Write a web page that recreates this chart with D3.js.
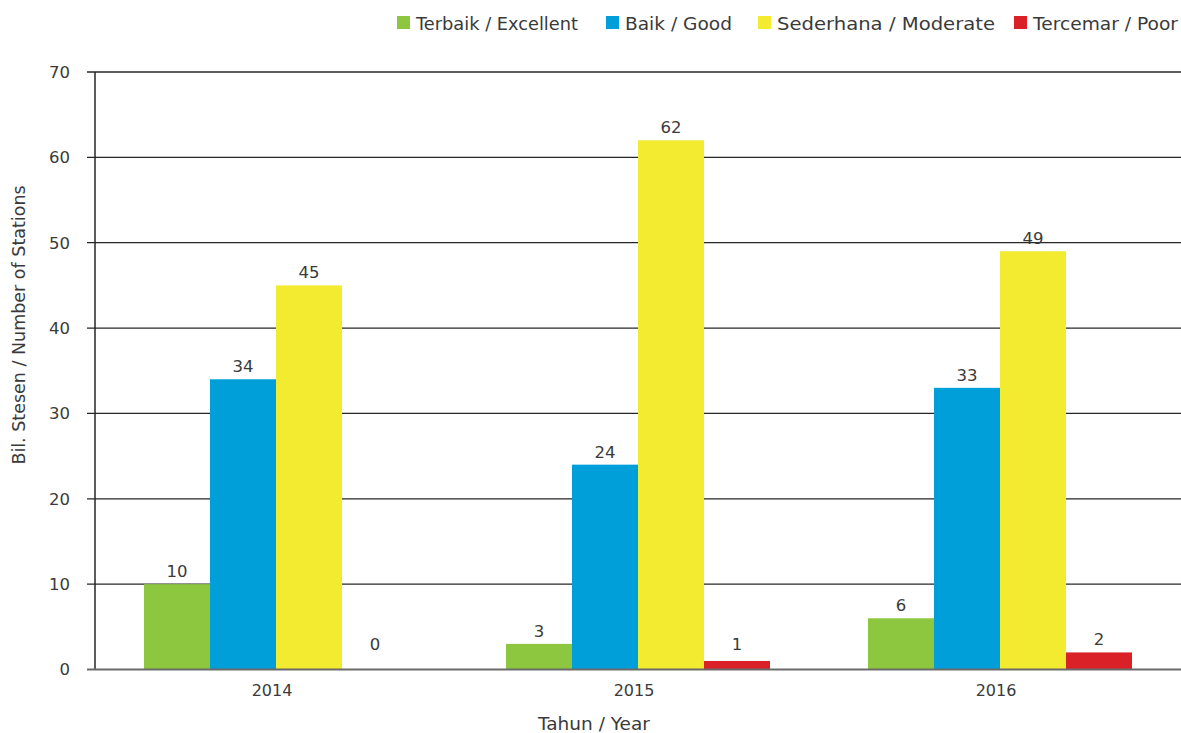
<!DOCTYPE html>
<html>
<head>
<meta charset="utf-8">
<script src="https://cdn.jsdelivr.net/npm/d3@7"></script>
<style>
  body { margin: 0; background: #fff; }
  text { font-family: "DejaVu Sans", "Noto Sans", sans-serif; fill: #3a3a3a; }
</style>
</head>
<body>
<div id="chart"></div>
<script>
const years = ["2014", "2015", "2016"];
const seriesNames = ["Terbaik / Excellent", "Baik / Good", "Sederhana / Moderate", "Tercemar / Poor"];
const excellent = [10, 3, 6];
const good = [34, 24, 33];
const moderate = [45, 62, 49];
const poor = [0, 1, 2];
const yTicks = [0, 10, 20, 30, 40, 50, 60, 70];
const colors = ["#8dc63f", "#009fda", "#f3eb2f", "#da2128"];

const seriesValues = [excellent, good, moderate, poor];
const data = years.map((y, i) => ({
  year: y,
  values: seriesNames.map((s, j) => ({ key: s, value: seriesValues[j][i] })),
}));

const W = 1181, H = 733;
const margin = { top: 72, right: 0, bottom: 63.5, left: 95 };
const width = W - margin.left - margin.right;
const height = H - margin.top - margin.bottom;

const root = d3.select("#chart").append("svg").attr("width", W).attr("height", H);
const svg = root.append("g").attr("transform", `translate(${margin.left},${margin.top})`);

const x0 = d3.scaleBand().domain(years).range([0, width]);
const x1 = d3.scaleBand().domain(seriesNames).range([49, x0.bandwidth() - 49]);
const y = d3.scaleLinear().domain([0, 70]).range([height, 0]);

// gridlines
svg.append("g")
  .selectAll("line")
  .data(yTicks.filter((d) => d > 0))
  .enter()
  .append("line")
  .attr("x1", -8)
  .attr("x2", width)
  .attr("y1", (d) => y(d))
  .attr("y2", (d) => y(d))
  .attr("stroke", "#262626")
  .attr("stroke-width", 1.3);

// y tick labels
svg.append("g")
  .selectAll("text")
  .data(yTicks)
  .enter()
  .append("text")
  .attr("x", -25)
  .attr("y", (d) => y(d))
  .attr("dy", "0.36em")
  .attr("text-anchor", "end")
  .style("font-size", "16.5px")
  .text((d) => d);

// bars
const groups = svg.selectAll(".group")
  .data(data)
  .enter()
  .append("g")
  .attr("class", "group")
  .attr("transform", (d) => `translate(${x0(d.year)},0)`);

groups.selectAll("rect")
  .data((d) => d.values)
  .enter()
  .append("rect")
  .attr("x", (d) => x1(d.key))
  .attr("y", (d) => y(d.value))
  .attr("width", x1.bandwidth())
  .attr("height", (d) => height - y(d.value))
  .attr("fill", (d, i) => colors[i]);

groups.selectAll(".val")
  .data((d) => d.values)
  .enter()
  .append("text")
  .attr("class", "val")
  .attr("x", (d) => x1(d.key) + x1.bandwidth() / 2)
  .attr("y", (d) => Math.min(y(d.value) - 7, height - 20))
  .attr("text-anchor", "middle")
  .style("font-size", "16.5px")
  .text((d) => d.value);

// y axis line
svg.append("line")
  .attr("x1", 0).attr("x2", 0)
  .attr("y1", y(70)).attr("y2", height)
  .attr("stroke", "#262626")
  .attr("stroke-width", 1.5);

// baseline
svg.append("line")
  .attr("x1", -8).attr("x2", width)
  .attr("y1", height).attr("y2", height)
  .attr("stroke", "#6b6b6b")
  .attr("stroke-width", 2);

// x tick labels
svg.append("g")
  .selectAll("text")
  .data(years)
  .enter()
  .append("text")
  .attr("x", (d) => x0(d) + x0.bandwidth() / 2 - 4)
  .attr("y", height + 26)
  .attr("text-anchor", "middle")
  .style("font-size", "16px")
  .text((d) => d);

// axis titles
root.append("text")
  .attr("x", 594)
  .attr("y", 730)
  .attr("text-anchor", "middle")
  .style("font-size", "18.5px")
  .text("Tahun / Year");

root.append("text")
  .attr("transform", "rotate(-90)")
  .attr("x", -325)
  .attr("y", 25)
  .attr("text-anchor", "middle")
  .style("font-size", "17.5px")
  .text("Bil. Stesen / Number of Stations");

// legend
const legendX = [397, 606, 758, 1014];
const legendW = [162, 107, 218, 145];
const legend = root.append("g")
  .selectAll("g")
  .data(seriesNames)
  .enter()
  .append("g")
  .attr("transform", (d, i) => `translate(${legendX[i]},16)`);

legend.append("rect")
  .attr("width", 13)
  .attr("height", 13)
  .attr("fill", (d, i) => colors[i]);

legend.append("text")
  .attr("x", 19)
  .attr("y", 14)
  .attr("textLength", (d, i) => legendW[i])
  .attr("lengthAdjust", "spacingAndGlyphs")
  .style("font-size", "17px")
  .text((d) => d);
</script>
</body>
</html>
